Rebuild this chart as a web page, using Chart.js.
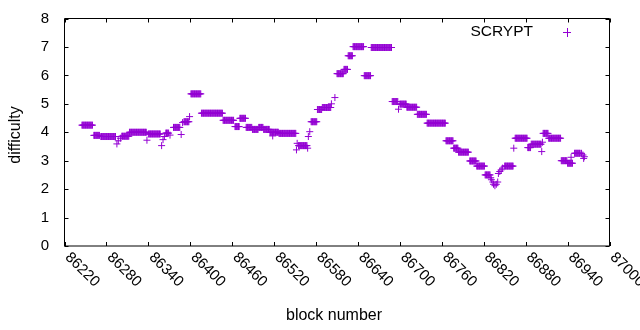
<!DOCTYPE html>
<html><head><meta charset="utf-8">
<script src="https://cdn.jsdelivr.net/npm/chart.js@4/dist/chart.umd.min.js"></script>
<style>html,body{margin:0;padding:0;background:#fff}canvas{display:block}</style>
</head><body>
<canvas id="c" width="640" height="330"></canvas>
<script>
// Runs of consecutive blocks that share one difficulty value
const runStart = [86245,86262,86272,86302,86313,86340,86365,86376,86391,86401,86416,86447,86464,86471,86480,86489,86498,86505,86514,86527,86555,86573,86582,86589,86610,86620,86626,86633,86649,86659,86689,86700,86710,86725,86739,86766,86777,86784,86800,86810,86822,86850,86865,86883,86888,86905,86913,86931,86940,86950];
const runEnd   = [86260,86270,86293,86312,86337,86357,86369,86385,86398,86415,86446,86462,86470,86479,86488,86497,86504,86513,86526,86551,86567,86581,86588,86601,86619,86625,86632,86648,86658,86688,86697,86709,86724,86738,86765,86776,86783,86798,86809,86821,86829,86862,86882,86887,86902,86912,86930,86939,86947,86958];
const runValue = [4.25,3.89,3.85,3.86,4.00,3.94,3.97,4.17,4.37,5.35,4.67,4.42,4.20,4.49,4.17,4.10,4.17,4.10,4.00,3.96,3.53,4.37,4.80,4.87,6.06,6.21,6.69,7.01,5.99,6.98,5.08,4.99,4.88,4.63,4.32,3.70,3.44,3.30,2.99,2.81,2.50,2.81,3.79,3.46,3.58,3.96,3.79,3.00,2.91,3.26];
// Single blocks off their run
const oddBlock = [86295,86297,86300,86338,86359,86361,86363,86371,86387,86389,86399,86518,86552,86553,86568,86569,86571,86602,86607,86698,86830,86831,86833,86834,86836,86838,86840,86841,86843,86845,86847,86863,86903,86904,86945,86960,86962,86963,86964];
const oddValue = [3.59,3.70,3.79,3.72,3.53,3.74,3.85,3.90,3.92,4.34,4.55,3.87,3.38,3.61,3.44,3.85,4.02,5.00,5.22,4.81,2.40,2.33,2.25,2.17,2.12,2.17,2.25,2.55,2.62,2.68,2.74,3.44,3.32,3.65,3.12,3.26,3.20,3.08,3.14];

const xTickLabels = ['86220','86280','86340','86400','86460','86520','86580','86640','86700','86760','86820','86880','86940','87000'];
const yTickLabels = ['0','1','2','3','4','5','6','7','8'];
const seriesName = 'SCRYPT';
const xTitle = 'block number';
const yTitle = 'difficulty';

const COLOR = '#9400d3';
const FONT = '"Liberation Sans", Arial, sans-serif';

const points = [];
for (let i = 0; i < runStart.length; i++) {
  for (let b = runStart[i]; b <= runEnd[i]; b++) points.push({x: b, y: runValue[i]});
}
for (let i = 0; i < oddBlock.length; i++) points.push({x: oddBlock[i], y: oddValue[i]});

const framePlugin = {
  id: 'frame',
  beforeDatasetsDraw(chart) {
    const {ctx, chartArea: a, scales: {x, y}} = chart;
    ctx.save();
    ctx.strokeStyle = '#000';
    ctx.lineWidth = 1;
    ctx.beginPath();
    ctx.rect(a.left, a.top, a.right - a.left, a.bottom - a.top);
    const t = 4;
    xTickLabels.forEach(l => {
      const px = Math.round(x.getPixelForValue(Number(l))) + 0.5;
      ctx.moveTo(px, a.bottom); ctx.lineTo(px, a.bottom - t);
      ctx.moveTo(px, a.top); ctx.lineTo(px, a.top + t);
    });
    yTickLabels.forEach(l => {
      const py = Math.round(y.getPixelForValue(Number(l))) + 0.5;
      ctx.moveTo(a.left, py); ctx.lineTo(a.left + t, py);
      ctx.moveTo(a.right, py); ctx.lineTo(a.right - t, py);
    });
    ctx.stroke();
    ctx.restore();
  },
  afterDraw(chart) {
    const {ctx, chartArea: a, scales: {x, y}} = chart;
    ctx.save();
    ctx.fillStyle = '#000';
    ctx.font = '15px ' + FONT;
    ctx.textAlign = 'right';
    ctx.textBaseline = 'middle';
    yTickLabels.forEach(l => {
      ctx.fillText(l, 49, y.getPixelForValue(Number(l)));
    });
    xTickLabels.forEach(l => {
      const px = x.getPixelForValue(Number(l));
      ctx.save();
      ctx.translate(px + 3, a.bottom + 9);
      ctx.rotate(Math.PI / 4);
      ctx.textAlign = 'left';
      ctx.textBaseline = 'middle';
      ctx.fillText(l, 0, 0);
      ctx.restore();
    });
    ctx.font = '16px ' + FONT;
    ctx.textAlign = 'center';
    ctx.textBaseline = 'middle';
    ctx.fillText(xTitle, 334, 316);
    ctx.save();
    ctx.translate(16, 135);
    ctx.rotate(-Math.PI / 2);
    ctx.fillText(yTitle, 0, 0);
    ctx.restore();
    // key
    ctx.font = '15.5px ' + FONT;
    ctx.textAlign = 'right';
    ctx.fillText(seriesName, 533, 32);
    ctx.strokeStyle = COLOR;
    ctx.lineWidth = 1;
    ctx.beginPath();
    ctx.moveTo(563, 32.5); ctx.lineTo(571, 32.5);
    ctx.moveTo(567.5, 28); ctx.lineTo(567.5, 37);
    ctx.stroke();
    ctx.restore();
  }
};

new Chart(document.getElementById('c'), {
  type: 'scatter',
  data: {datasets: [{
    label: seriesName,
    data: points,
    pointStyle: 'cross',
    pointRadius: 3.5,
    pointHoverRadius: 3.5,
    borderWidth: 1,
    borderColor: COLOR,
    backgroundColor: COLOR
  }]},
  options: {
    responsive: false,
    animation: false,
    devicePixelRatio: 1,
    events: [],
    layout: {padding: {left: 0.5, top: 18.5, right: 30.5, bottom: 0}},
    plugins: {legend: {display: false}, tooltip: {enabled: false}},
    scales: {
      x: {type: 'linear', min: 86220, max: 87000,
          ticks: {display: false}, grid: {display: false}, border: {display: false},
          afterFit(s) { s.height = 84; }},
      y: {type: 'linear', min: 0, max: 8,
          ticks: {display: false}, grid: {display: false}, border: {display: false},
          afterFit(s) { s.width = 64; }}
    }
  },
  plugins: [framePlugin]
});
</script>
</body></html>
